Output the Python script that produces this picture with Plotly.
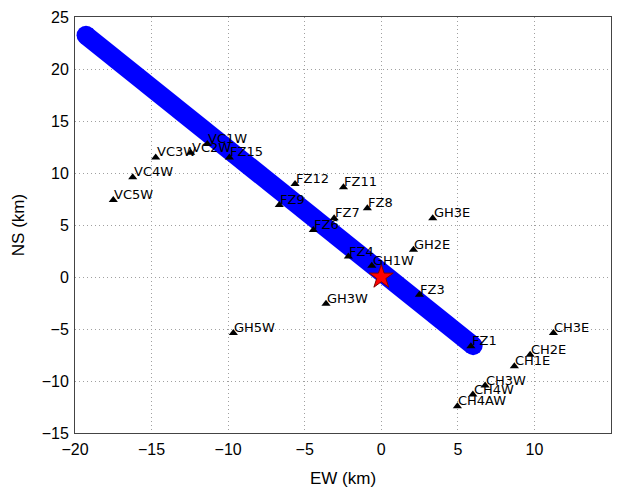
import plotly.graph_objects as go

# Station names and coordinates (km)
stations = ["VC1W", "VC2W", "VC3W", "VC4W", "VC5W", "FZ15", "FZ12", "FZ11", "FZ9", "FZ8",
            "FZ7", "FZ6", "FZ4", "GH1W", "GH3E", "GH2E", "GH3W", "GH5W", "FZ3", "FZ1",
            "CH3E", "CH2E", "CH1E", "CH3W", "CH4W", "CH4AW"]
st_x = [-11.36, -12.45, -14.73, -16.23, -17.5, -9.92, -5.63, -2.47, -6.66, -0.91,
        -3.08, -4.44, -2.15, -0.62, 3.36, 2.1, -3.61, -9.66, 2.49, 5.85,
        11.24, 9.72, 8.69, 6.78, 5.98, 4.97]
st_y = [12.78, 11.95, 11.5, 9.59, 7.41, 11.5, 8.94, 8.63, 6.93, 6.61,
        5.65, 4.53, 1.97, 1.07, 5.65, 2.61, -2.57, -5.38, -1.71, -6.67,
        -5.38, -7.47, -8.59, -10.44, -11.3, -12.43]

# Fault trace end points (km)
fault_x = [-19.28, 6.0]
fault_y = [23.24, -6.6]

# Epicentre
epi_x = [0.0]
epi_y = [0.0]

x_ticks = [-20, -15, -10, -5, 0, 5, 10, 15]
y_ticks = [-15, -10, -5, 0, 5, 10, 15, 20, 25]

fig = go.Figure()
fig.add_trace(go.Scatter(x=fault_x, y=fault_y, mode="lines+markers",
                         line=dict(color="#0000ff", width=19),
                         marker=dict(color="#0000ff", size=19, symbol="circle"),
                         hoverinfo="skip", showlegend=False))
fig.add_trace(go.Scatter(x=st_x, y=st_y, mode="markers",
                         marker=dict(symbol="triangle-up", color="black", size=8),
                         showlegend=False))
fig.add_trace(go.Scatter(x=epi_x, y=epi_y, mode="markers",
                         marker=dict(symbol="star", color="red", size=18,
                                     line=dict(color="#800000", width=1)),
                         showlegend=False))

for name, x, y in zip(stations, st_x, st_y):
    fig.add_annotation(x=x, y=y, text=name, showarrow=False,
                       xanchor="left", yanchor="bottom", xshift=-1, yshift=-4,
                       font=dict(family="DejaVu Sans", size=13, color="black"))

axis_common = dict(showline=True, linecolor="#444", linewidth=1, mirror=True,
                   showgrid=True, gridcolor="#a0a0a0", griddash="1px,3px", gridwidth=1,
                   zeroline=False, ticks="", ticklabelstandoff=2,
                   tickfont=dict(family="Liberation Sans", size=16, color="black"),
                   title_font=dict(family="Liberation Sans", size=17, color="black"))

fig.update_xaxes(range=[-20, 15], tickvals=x_ticks, title_text="EW (km)", title_standoff=14, **axis_common)
fig.update_yaxes(range=[-15, 25], tickvals=y_ticks, title_text="NS (km)", title_standoff=12, **axis_common)

fig.update_layout(width=618, height=499, margin=dict(l=75, r=7, t=17, b=66),
                  plot_bgcolor="white", paper_bgcolor="white", showlegend=False)

fig.write_html("out.html")
